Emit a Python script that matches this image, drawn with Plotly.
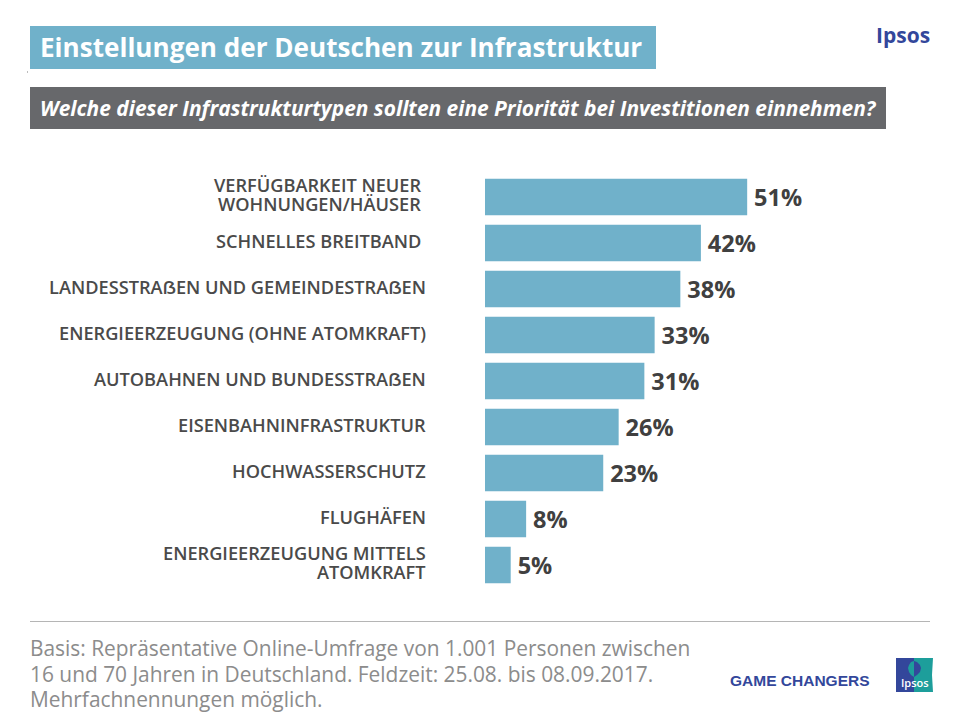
import plotly.graph_objects as go

categories = [
    "VERFÜGBARKEIT NEUER\u00a0<br>WOHNUNGEN/HÄUSER\u00a0",
    "SCHNELLES BREITBAND\u00a0",
    "LANDESSTRAẞEN UND GEMEINDESTRAẞEN",
    "ENERGIEERZEUGUNG (OHNE ATOMKRAFT)",
    "AUTOBAHNEN UND BUNDESSTRAẞEN",
    "EISENBAHNINFRASTRUKTUR",
    "HOCHWASSERSCHUTZ",
    "FLUGHÄFEN",
    "ENERGIEERZEUGUNG MITTELS<br>ATOMKRAFT",
]
values = [51, 42, 38, 33, 31, 26, 23, 8, 5]
value_labels = ["51%", "42%", "38%", "33%", "31%", "26%", "23%", "8%", "5%"]

title_text = "Einstellungen der Deutschen zur Infrastruktur"
question_text = "Welche dieser Infrastrukturtypen sollten eine Priorität bei Investitionen einnehmen?"
basis_lines = [
    "Basis: Repräsentative Online-Umfrage von 1.001 Personen zwischen",
    "16 und 70 Jahren in Deutschland. Feldzeit: 25.08. bis 08.09.2017.",
    "Mehrfachnennungen möglich.",
]

FONT = "Open Sans"
BLUE = "#70B1CA"
GREY = "#67686B"
NAVY = "#33479B"
TEAL = "#1D9E9B"
W, H = 960, 720
PL, PT, PW, PH = 485, 174, 475, 414


def px(x):
    return (x - PL) / PW


def py(y):
    return 1 - (y - PT) / PH


fig = go.Figure(go.Bar(
    x=values, y=categories, orientation="h",
    marker=dict(color=BLUE, line=dict(width=0)),
    text=value_labels, texttemplate="\u2006%{text}", textposition="outside", cliponaxis=False,
    textfont=dict(family=FONT, size=23.5, color="#404040", weight="bold"),
    width=0.79, hoverinfo="skip",
))


def rect(x0, y0, x1, y1, color):
    return dict(type="rect", xref="paper", yref="paper", layer="below",
                x0=px(x0), x1=px(x1), y0=py(y0), y1=py(y1),
                fillcolor=color, line=dict(width=0))


def poly(points, color):
    d = "M " + " L ".join("%f %f" % (px(x), py(y)) for x, y in points) + " Z"
    return dict(type="path", xref="paper", yref="paper", layer="above",
                path=d, fillcolor=color, line=dict(width=0))


def note(x, y, text, size, color, anchor="left", family=FONT, **font):
    return dict(xref="paper", yref="paper", x=px(x), y=py(y), text=text,
                showarrow=False, xanchor=anchor, yanchor="middle", align=anchor,
                borderpad=0, borderwidth=0,
                font=dict(family=family, size=size, color=color, **font))


shapes = [
    rect(30, 26, 656, 69, BLUE),
    rect(30, 87, 886, 129, GREY),
    rect(27, 71, 28, 73, "#BDBDBD"),
    rect(896, 658, 914, 692, NAVY),
    poly([(914, 658), (933, 658), (932, 675), (933, 692), (914, 692)], TEAL),
    poly([(914, 661), (911, 662), (909, 665), (908, 668), (909, 672), (911, 675), (914, 677)], TEAL),
    poly([(914, 661), (917, 662), (920, 665), (921, 668), (920, 672), (917, 675), (914, 677)], NAVY),
    dict(type="line", xref="paper", yref="paper", x0=px(30), x1=px(930),
         y0=py(621.5), y1=py(621.5), line=dict(color="#B5B5B5", width=1)),
]
annotations = [
    note(40, 47.5, title_text, 26.1, "white", weight="bold"),
    note(40, 108, question_text, 20.9, "white", weight="bold", style="italic"),
    note(930, 35, "Ipsos", 21, NAVY, anchor="right", weight="bold"),
    note(800, 680, "GAME CHANGERS", 15.5, NAVY, anchor="center",
         family="Liberation Sans", weight="bold"),
    note(914.5, 682, "Ipsos", 11, "white", anchor="center", weight=600),
]
for line, y in zip(basis_lines, [648, 674, 699]):
    annotations.append(note(30, y, line, 20.9, "#8C8C8C"))

# Category labels: one text per line so the tight line spacing can be kept
LINE_STEP = 19
for cat in categories:
    parts = cat.split("<br>")
    for i, part in enumerate(parts):
        annotations.append(dict(
            xref="x", yref="y", x=0, y=cat, text=part, showarrow=False,
            xanchor="right", yanchor="middle", align="right", xshift=-57,
            yshift=(len(parts) - 1) * LINE_STEP / 2 - i * LINE_STEP + 2.5,
            font=dict(family=FONT, size=18.2, color="#4A4A4A", weight=600),
        ))

fig.update_layout(
    width=W, height=H, autosize=False,
    margin=dict(l=PL, r=W - PL - PW, t=PT, b=H - PT - PH, pad=0),
    paper_bgcolor="white", plot_bgcolor="white",
    showlegend=False, shapes=shapes, annotations=annotations,
    xaxis=dict(range=[0, 92.4], visible=False, fixedrange=True),
    yaxis=dict(range=[8.5, -0.5], type="category", showline=False,
               showgrid=False, ticks="", showticklabels=False, fixedrange=True),
)

fig.write_html("out.html", config=dict(displayModeBar=False),
               post_script="document.body.style.margin='0';")
